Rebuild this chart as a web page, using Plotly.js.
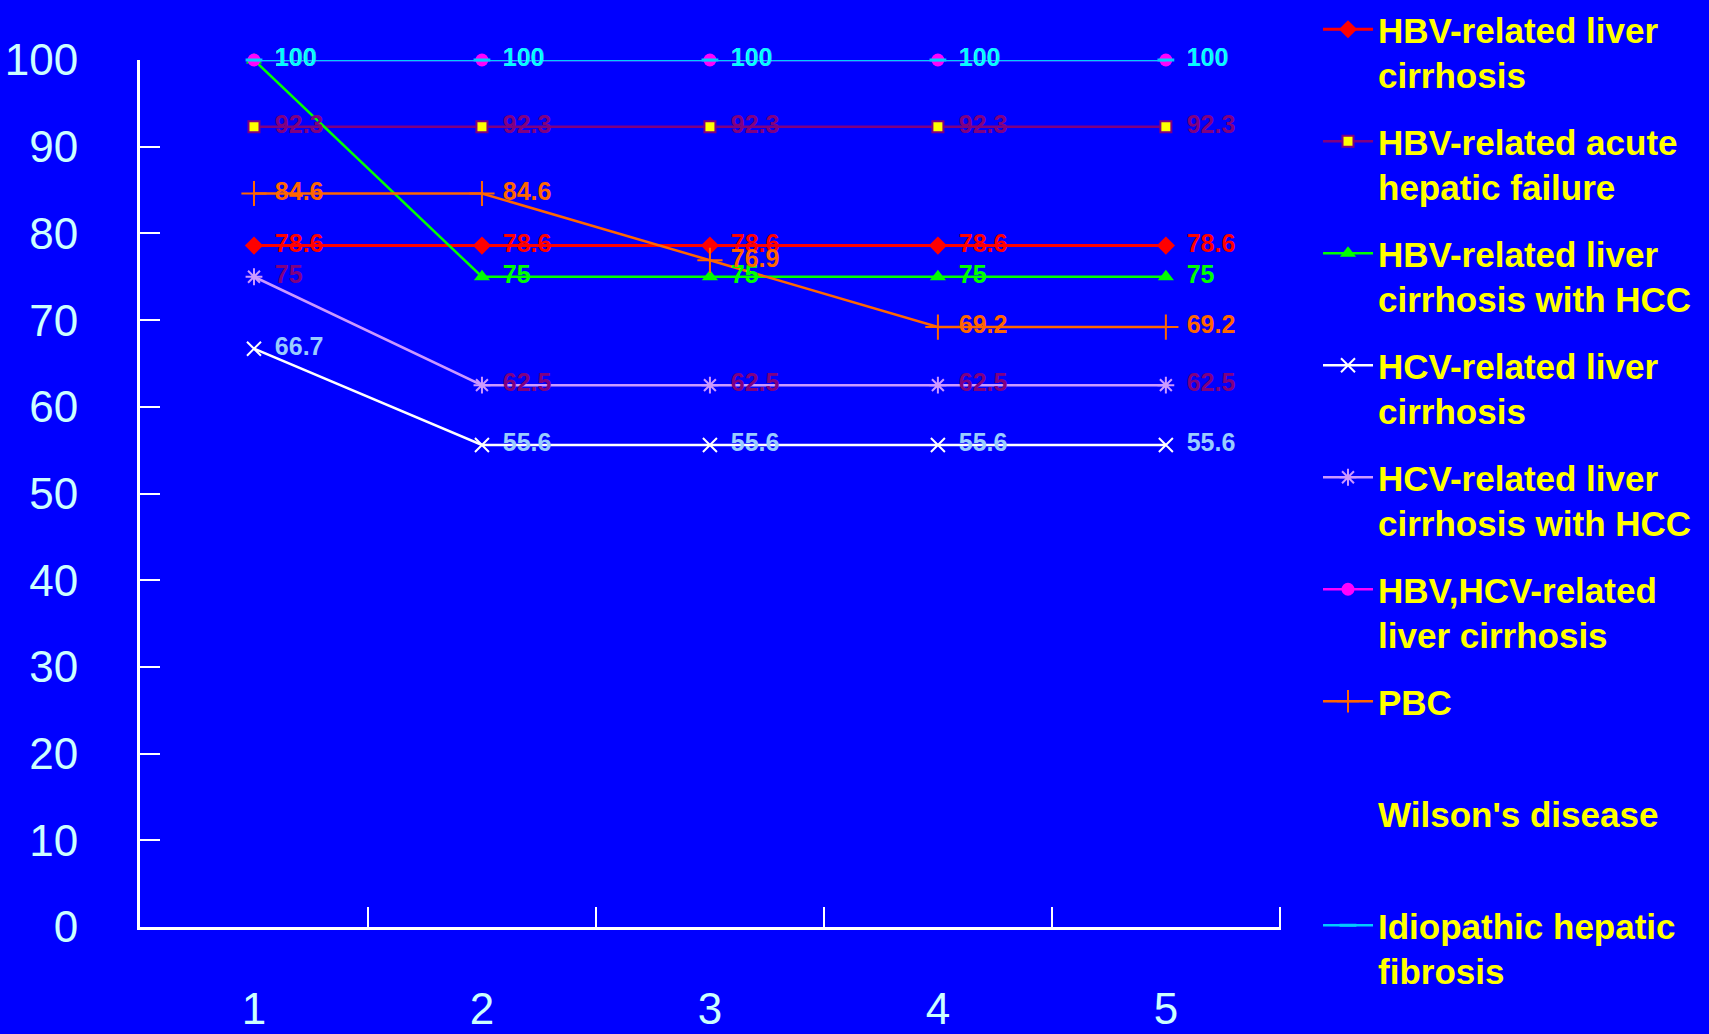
<!DOCTYPE html>
<html>
<head>
<meta charset="utf-8">
<script src="https://cdn.plot.ly/plotly-3.0.1.min.js"></script>
<style>html,body{margin:0;padding:0;background:#0000ff;}</style>
</head>
<body>
<div id="chart" style="width:1709px;height:1034px;"></div>
<script>
// ---- data ----
const categories = ['1', '2', '3', '4', '5'];
const seriesNames = [
  'HBV-related liver<br>cirrhosis',
  'HBV-related acute<br>hepatic failure',
  'HBV-related liver<br>cirrhosis with HCC',
  'HCV-related liver<br>cirrhosis',
  'HCV-related liver<br>cirrhosis with HCC',
  'HBV,HCV-related<br>liver cirrhosis',
  'PBC<br>\u00a0',
  "Wilson's disease<br>\u00a0",
  'Idiopathic hepatic<br>fibrosis'
];
const hbvCirrhosis      = [78.6, 78.6, 78.6, 78.6, 78.6];
const hbvAcuteFailure   = [92.3, 92.3, 92.3, 92.3, 92.3];
const hbvCirrhosisHCC   = [100, 75, 75, 75, 75];
const hcvCirrhosis      = [66.7, 55.6, 55.6, 55.6, 55.6];
const hcvCirrhosisHCC   = [75, 62.5, 62.5, 62.5, 62.5];
const hbvHcvCirrhosis   = [100, 100, 100, 100, 100];
const pbc               = [84.6, 84.6, 76.9, 69.2, 69.2];
const wilsons           = [null, null, null, null, null];
const idiopathicFibrosis= [100, 100, 100, 100, 100];
const yTicks = [0, 10, 20, 30, 40, 50, 60, 70, 80, 90, 100];

// ---- styles ----
const seriesData = [hbvCirrhosis, hbvAcuteFailure, hbvCirrhosisHCC, hcvCirrhosis, hcvCirrhosisHCC, hbvHcvCirrhosis, pbc, wilsons, idiopathicFibrosis];
const styles = [
  {line:'#ff0000', lw:3, marker:{symbol:'diamond', size:14, color:'#ff0000'}, text:'#ff0000'},
  {line:'#800080', lw:2.5, marker:{symbol:'square', size:11, color:'#ffff00', line:{color:'#800080', width:2}}, text:'#800080'},
  {line:'#00ff00', lw:2.5, marker:{symbol:'triangle-up', size:14, color:'#00ff00'}, text:'#00ff00'},
  {line:'#ffffff', lw:2.5, marker:{symbol:'x-thin-open', size:14, color:'#ffffff', line:{color:'#ffffff', width:2}}, text:'#99ccff'},
  {line:'#cc99ff', lw:2.5, marker:{symbol:'asterisk-open', size:14, color:'#cc99ff', line:{color:'#cc99ff', width:2}}, text:'#800080'},
  {line:'#ff00ff', lw:2.5, marker:{symbol:'circle', size:13, color:'#ff00ff'}, text:'#ff00ff'},
  {line:'#ff6600', lw:2.5, marker:{symbol:'cross-thin-open', size:18, color:'#ff6600', line:{color:'#ff6600', width:2}}, text:'#ff6600'},
  {line:'rgba(0,0,0,0)', lw:0, marker:null, text:'#ffff00'},
  {line:'#00ccff', lw:2.5, marker:{symbol:'line-ew-open', size:12, color:'#00ccff', line:{color:'#00ccff', width:3}}, text:'#00ffff'}
];

const traces = [];
seriesData.forEach((ys, i) => {
  const st = styles[i];
  const t = {
    type: 'scatter',
    x: categories.slice(0, ys.length),
    y: ys,
    name: seriesNames[i],
    legendgroup: 'g' + i,
    showlegend: true,
    cliponaxis: false,
    hoverinfo: 'skip'
  };
  if (st.marker) {
    t.mode = 'lines+markers';
    t.line = {color: st.line, width: st.lw};
    t.marker = st.marker;
  } else {
    t.mode = 'none';
  }
  traces.push(t);
});
// value labels
seriesData.forEach((ys, i) => {
  if (!ys.some(v => v !== null)) return;
  traces.push({
    type: 'scatter',
    mode: 'text',
    x: categories.slice(0, ys.length),
    y: ys,
    texttemplate: '\u00a0\u00a0\u00a0%{y}',
    textposition: 'middle right',
    textfont: {family: 'Liberation Sans, Arial, sans-serif', size: 25, weight: 'bold', color: styles[i].text},
    showlegend: false,
    cliponaxis: false,
    hoverinfo: 'skip'
  });
});

const layout = {
  width: 1709,
  height: 1034,
  paper_bgcolor: '#0000ff',
  plot_bgcolor: '#0000ff',
  margin: {l: 140, r: 428, t: 60, b: 107},
  showlegend: true,
  xaxis: {
    type: 'category',
    categoryarray: categories,
    range: [-0.5, 4.505],
    tickson: 'boundaries',
    ticks: 'inside',
    ticklen: 20,
    tickwidth: 2,
    tickcolor: '#ffffff',
    showline: true,
    linecolor: '#ffffff',
    linewidth: 3,
    showgrid: false,
    zeroline: false,
    ticklabelstandoff: 41,
    tickfont: {family: 'Liberation Sans, Arial, sans-serif', size: 44, color: '#ccffff'}
  },
  yaxis: {
    range: [0, 100],
    tickvals: yTicks,
    ticks: 'inside',
    ticklen: 20,
    tickwidth: 2,
    tickcolor: '#ffffff',
    showline: true,
    linecolor: '#ffffff',
    linewidth: 3,
    showgrid: false,
    zeroline: false,
    ticklabelstandoff: 50,
    tickfont: {family: 'Liberation Sans, Arial, sans-serif', size: 44, color: '#ccffff'}
  },
  legend: {
    xref: 'container',
    yref: 'paper',
    x: 1318 / 1709,
    xanchor: 'left',
    y: 1 + 67 / 867,
    yanchor: 'top',
    maxheight: 1200,
    itemwidth: 50,
    bgcolor: 'rgba(0,0,0,0)',
    borderwidth: 0,
    valign: 'top',
    tracegroupgap: 18,
    font: {family: 'Liberation Sans, Arial, sans-serif', size: 35, weight: 'bold', color: '#ffff00'}
  }
};

Plotly.newPlot('chart', traces, layout, {staticPlot: true, displayModeBar: false});
</script>
</body>
</html>
